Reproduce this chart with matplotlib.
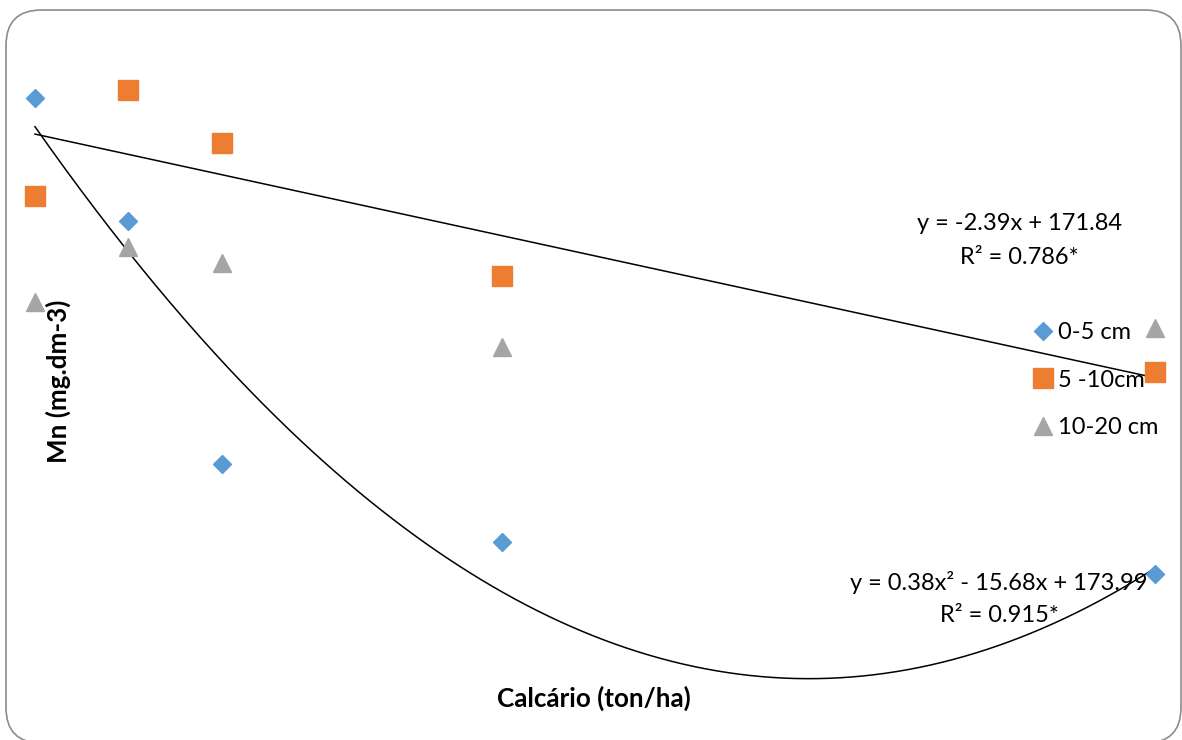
import numpy as np
import matplotlib
matplotlib.use("Agg")
import matplotlib.pyplot as plt
from matplotlib.patches import FancyBboxPatch

# Data (Calcário dose, ton/ha) and Mn (mg.dm-3) per depth
x = [0, 2, 4, 10, 24]
mn_0_5 = [180.4, 151.3, 94.1, 75.7, 68.2]
mn_5_10 = [157.3, 182.1, 169.7, 138.4, 115.9]
mn_10_20 = [132.3, 145.3, 141.5, 121.6, 126.2]
labels = ["0-5 cm", "5 -10cm", "10-20 cm"]
eq_lin = ["y = -2.39x + 171.84", "R² = 0.786*"]
eq_quad = ["y = 0.38x² - 15.68x + 173.99", "R² = 0.915*"]
xlabel = "Calcário (ton/ha)"
ylabel = "Mn (mg.dm-3)"

W, H = 1182, 740
fig = plt.figure(figsize=(W / 100, H / 100), dpi=100)
plt.rcParams['font.family'] = ['Lato', 'DejaVu Sans']

# rounded chart border
border = FancyBboxPatch((6 / W, -3 / H), 1175 / W, 733 / H,
                        boxstyle="round,pad=0,rounding_size=0.03",
                        transform=fig.transFigure, facecolor='none',
                        edgecolor='#8c8c8c', linewidth=1.2, zorder=-1,
                        mutation_aspect=W / H)
fig.patches.append(border)

ax = fig.add_axes([0, 0, 1, 1])
ax.set_facecolor('none')
ax.axis('off')
ax.set_xlim(-0.75, 24.58)
ax.set_ylim(29.16, 203.36)

xa = np.array(x, dtype=float)

# trend lines
xs = np.linspace(0, 24, 300)
p1 = np.polyfit(xa, mn_5_10, 1)
ax.plot(xs, np.polyval(p1, xs), color='black', lw=1.1, zorder=2)
p2 = np.polyfit(xa, mn_0_5, 2)
ax.plot(xs, np.polyval(p2, xs), color='black', lw=1.1, zorder=2)

ax.plot(x, mn_0_5, linestyle='none', marker='D', ms=9.2, color='#5B9BD5',
        mec='#5B9BD5', label=labels[0], zorder=3)
ax.plot(x, mn_5_10, linestyle='none', marker='s', ms=14.2, color='#ED7D31',
        mec='#ED7D31', label=labels[1], zorder=3)
ax.plot(x, mn_10_20, linestyle='none', marker='^', ms=13.5, color='#A5A5A5',
        mec='#A5A5A5', label=labels[2], zorder=3)

fs = 17
leg = ax.legend(loc='upper left', bbox_to_anchor=(1012 / W, 1 - 301 / H),
                bbox_transform=fig.transFigure, frameon=False, fontsize=fs,
                handlelength=0.8, handletextpad=0.25, labelspacing=1.12,
                borderpad=0.4, markerscale=1.0)

def ftext(px, py, s, **kw):
    fig.text(px / W, 1 - py / H, s, **kw)

ftext(1019, 224, eq_lin[0], ha='center', va='center', fontsize=fs)
ftext(1019, 257, eq_lin[1], ha='center', va='center', fontsize=fs)
ftext(999, 583, eq_quad[0], ha='center', va='center', fontsize=fs)
ftext(999, 615, eq_quad[1], ha='center', va='center', fontsize=fs)

ftext(594, 698, xlabel, ha='center', va='center', fontsize=18.7, fontweight='bold')
ftext(58, 381, ylabel, ha='center', va='center', fontsize=18.7, fontweight='bold',
      rotation=90)

fig.savefig('out.png', dpi=100)
